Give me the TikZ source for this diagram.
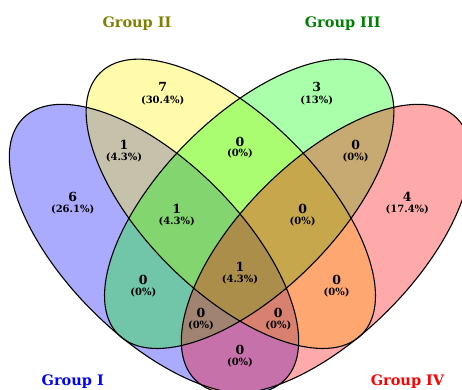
\documentclass[tikz,border=0pt]{standalone}
\usepackage{fontspec}
\setmainfont{DejaVu Serif}
\definecolor{grpblue}{RGB}{0,0,255}
\definecolor{grpolive}{RGB}{128,128,0}
\definecolor{grpgreen}{RGB}{0,128,0}
\definecolor{grpred}{RGB}{255,0,0}
\definecolor{setgreen}{RGB}{0,255,0}
\begin{document}
\begin{tikzpicture}[x=1pt,y=-1pt,
    setfill/.style={fill opacity=0.333},
    setline/.style={draw=black,line width=1.1pt},
    cnt/.style={inner sep=0pt,font=\bfseries\fontsize{12.5}{14}\selectfont},
    pct/.style={inner sep=0pt,font=\bfseries\fontsize{10}{12}\selectfont},
    grp/.style={inner sep=0pt,anchor=base,font=\bfseries\fontsize{14.5}{17}\selectfont}]

        \clip (0,0) rectangle (462,389);

        % set centres
        \coordinate (cI) at (154,249);
        \coordinate (cII) at (230.8,203.8);
        \coordinate (cIII) at (249.2,203.8);
        \coordinate (cIV) at (326,249);

        % fills
        \fill [grpblue, setfill, rotate around={-45:(cI)}] (cI) ellipse [x radius=185, y radius=87.3];
        \fill [yellow, setfill, rotate around={-45:(cII)}] (cII) ellipse [x radius=185, y radius=87.3];
        \fill [setgreen, setfill, rotate around={45:(cIII)}] (cIII) ellipse [x radius=185, y radius=87.3];
        \fill [grpred, setfill, rotate around={45:(cIV)}] (cIV) ellipse [x radius=185, y radius=87.3];

        % outlines
        \draw [setline, rotate around={-45:(cI)}] (cI) ellipse [x radius=185, y radius=87.3];
        \draw [setline, rotate around={-45:(cII)}] (cII) ellipse [x radius=185, y radius=87.3];
        \draw [setline, rotate around={45:(cIII)}] (cIII) ellipse [x radius=185, y radius=87.3];
        \draw [setline, rotate around={45:(cIV)}] (cIV) ellipse [x radius=185, y radius=87.3];

        % group names
        \node [grp, text=grpolive] (gII) at (137,27.3) {Group II};
        \node [grp, text=grpgreen] (gIII) at (342.7,27.3) {Group III};
        \node [grp, text=grpblue] (gI) at (72.8,385.5) {Group I};
        \node [grp, text=grpred] (gIV) at (407.5,385.5) {Group IV};

        % only one group
        \node [cnt] (nII) at (162.7,87.3) {7};
        \node [pct] (pII) at (162.7,100) {(30.4\%)};
        \node [cnt] (nIII) at (316.7,87.3) {3};
        \node [pct] (pIII) at (316.7,100) {(13\%)};
        \node [cnt] (nI) at (72.7,196.7) {6};
        \node [pct] (pI) at (72.7,209) {(26.1\%)};
        \node [cnt] (nIV) at (407.3,196.7) {4};
        \node [pct] (pIV) at (407.3,209) {(17.4\%)};

        % two groups
        \node [cnt] (nI-II) at (124,145) {1};
        \node [pct] (pI-II) at (124,157.3) {(4.3\%)};
        \node [cnt] (nII-III) at (240,141.7) {0};
        \node [pct] (pII-III) at (240,153.7) {(0\%)};
        \node [cnt] (nIII-IV) at (355.7,145) {0};
        \node [pct] (pIII-IV) at (355.7,157.3) {(0\%)};
        \node [cnt] (nI-III) at (143.3,280) {0};
        \node [pct] (pI-III) at (143.3,292.3) {(0\%)};
        \node [cnt] (nII-IV) at (336.7,280) {0};
        \node [pct] (pII-IV) at (336.7,292.3) {(0\%)};
        \node [cnt] (nI-IV) at (240,350) {0};
        \node [pct] (pI-IV) at (240,362.7) {(0\%)};

        % three groups
        \node [cnt] (nI-II-III) at (176.7,209) {1};
        \node [pct] (pI-II-III) at (176.7,221.7) {(4.3\%)};
        \node [cnt] (nII-III-IV) at (302.7,209) {0};
        \node [pct] (pII-III-IV) at (302.7,221.7) {(0\%)};
        \node [cnt] (nI-III-IV) at (201,313.3) {0};
        \node [pct] (pI-III-IV) at (201,325.3) {(0\%)};
        \node [cnt] (nI-II-IV) at (278.3,313.3) {0};
        \node [pct] (pI-II-IV) at (278.3,325.3) {(0\%)};

        % all four
        \node [cnt] (nall) at (240,266.7) {1};
        \node [pct] (pall) at (240,279.3) {(4.3\%)};

\end{tikzpicture}
\end{document}
